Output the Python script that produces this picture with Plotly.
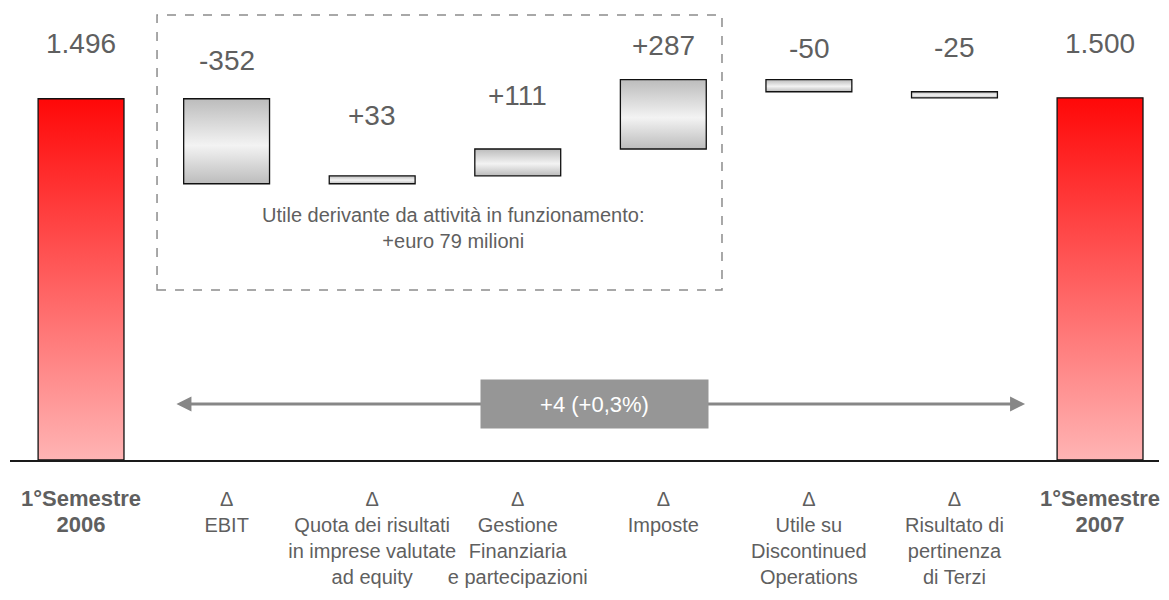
import plotly.graph_objects as go
import numpy as np

# valori in milioni di euro
categorie = ["1°Semestre 2006", "EBIT", "Quota risultati equity", "Gestione finanziaria",
             "Imposte", "Discontinued Operations", "Terzi", "1°Semestre 2007"]
misure = ["absolute", "relative", "relative", "relative", "relative", "relative", "relative", "total"]
valori = [1496, -352, 33, 111, 287, -50, -25, 0]
etichette_asse = [
    "<b><span style='font-size:22px'>1°Semestre</span></b><br><b><span style='font-size:22px'>2006</span></b>",
    "Δ<br>EBIT",
    "Δ<br>Quota dei risultati<br>in imprese valutate<br>ad equity",
    "Δ<br>Gestione<br>Finanziaria<br>e partecipazioni",
    "Δ<br>Imposte",
    "Δ<br>Utile su<br>Discontinued<br>Operations",
    "Δ<br>Risultato di<br>pertinenza<br>di Terzi",
    "<b><span style='font-size:22px'>1°Semestre</span></b><br><b><span style='font-size:22px'>2007</span></b>",
]
nota_box = "Utile derivante da attività in funzionamento:<br>+euro 79 milioni"

grigio_testo = "#5f5f5f"
x = np.arange(len(categorie))

# calcolo cime delle barre per le etichette
cum = np.cumsum(valori[:-1])
finale = cum[-1]
inizio = np.concatenate([[0], cum[:-1]])
fine = cum
cime = list(np.maximum(inizio, fine)) + [finale]
testi = []
for i, v in enumerate(valori):
    if misure[i] == "absolute":
        testi.append(f"{v:,}".replace(",", "."))
    elif misure[i] == "total":
        testi.append(f"{int(finale):,}".replace(",", "."))
    else:
        testi.append(f"{v:+d}")
offset_px = [55, 38, 60, 53, 34, 31, 44, 54]

delta = finale - valori[0]
delta_pct = delta / valori[0] * 100
testo_delta = f"+{delta} (+{delta_pct:.1f}%)".replace(".", ",")

fig = go.Figure()
fig.add_trace(go.Waterfall(
    x=x, y=valori, measure=misure,
    width=0.59,
    connector=dict(visible=False),
    increasing=dict(marker=dict(color="#dcdcdc", line=dict(color="#111111", width=1.3))),
    decreasing=dict(marker=dict(color="#dcdcdc", line=dict(color="#111111", width=1.3))),
    totals=dict(marker=dict(color="#ff5050", line=dict(color="#111111", width=1.3))),
    hoverinfo="skip",
))

for i in range(len(categorie)):
    fig.add_annotation(x=x[i], y=cime[i], text=testi[i], showarrow=False,
                       yshift=offset_px[i], yanchor="middle",
                       font=dict(size=28, color=grigio_testo))

# riquadro tratteggiato
fig.add_shape(type="rect", xref="x", yref="y", x0=0.522, x1=4.403, y0=704, y1=1843,
              line=dict(color="#8c8c8c", width=1.5, dash="dash"))
fig.add_annotation(x=2.555, y=961, text=nota_box, showarrow=False,
                   font=dict(size=20, color=grigio_testo))

# freccia di variazione
fig.add_annotation(x=6.485, y=232, ax=0.645, ay=232, xref="x", yref="y", axref="x", ayref="y",
                   text="", showarrow=True, arrowhead=2, arrowside="end+start",
                   arrowsize=1, arrowwidth=3, arrowcolor="#878787")
fig.add_annotation(x=3.53, y=232, text=testo_delta, showarrow=False,
                   bgcolor="#969696", width=225, height=46,
                   font=dict(size=22, color="white"))

fig.update_layout(
    width=1169, height=600,
    margin=dict(l=10, r=10, t=0, b=140),
    plot_bgcolor="white", paper_bgcolor="white",
    font=dict(family="Liberation Sans, Arial, sans-serif", color=grigio_testo),
    showlegend=False,
    xaxis=dict(range=[-0.488, 7.405], tickmode="array", tickvals=x, ticktext=etichette_asse,
               tickangle=0, automargin=False,
               showgrid=False, zeroline=False, showline=True, linecolor="#1a1a1a", linewidth=1.5,
               ticks="", tickfont=dict(size=20, color=grigio_testo), ticklabelstandoff=20,
               fixedrange=True),
    yaxis=dict(range=[0, 1905], visible=False, fixedrange=True),
)

js = """
document.body.style.margin = '0';
var gd = document.getElementById('{plot_id}');
function sfuma() {
  var svg = gd.querySelector('svg.main-svg');
  if (!svg) return;
  var ns = 'http://www.w3.org/2000/svg';
  var defs = svg.querySelector('defs');
  if (!defs) { defs = document.createElementNS(ns, 'defs'); svg.insertBefore(defs, svg.firstChild); }
  function grad(id, stops) {
    if (svg.querySelector('#' + id)) return;
    var g = document.createElementNS(ns, 'linearGradient');
    g.setAttribute('id', id);
    g.setAttribute('x1', '0'); g.setAttribute('y1', '0');
    g.setAttribute('x2', '0'); g.setAttribute('y2', '1');
    stops.forEach(function (s) {
      var st = document.createElementNS(ns, 'stop');
      st.setAttribute('offset', s[0]);
      st.setAttribute('stop-color', s[1]);
      g.appendChild(st);
    });
    defs.appendChild(g);
  }
  grad('gradRosso', [['0%', '#ff0808'], ['100%', '#ffb4b4']]);
  grad('gradGrigio', [['0%', '#bcbcbc'], ['55%', '#f3f3f3'], ['100%', '#bcbcbc']]);
  var punti = gd.querySelectorAll('.point path');
  var n = punti.length;
  punti.forEach(function (p, i) {
    p.style.fill = (i === 0 || i === n - 1) ? 'url(#gradRosso)' : 'url(#gradGrigio)';
  });
}
sfuma();
gd.on('plotly_afterplot', sfuma);
"""

fig.write_html("out.html", post_script=js, config={"displayModeBar": False})
